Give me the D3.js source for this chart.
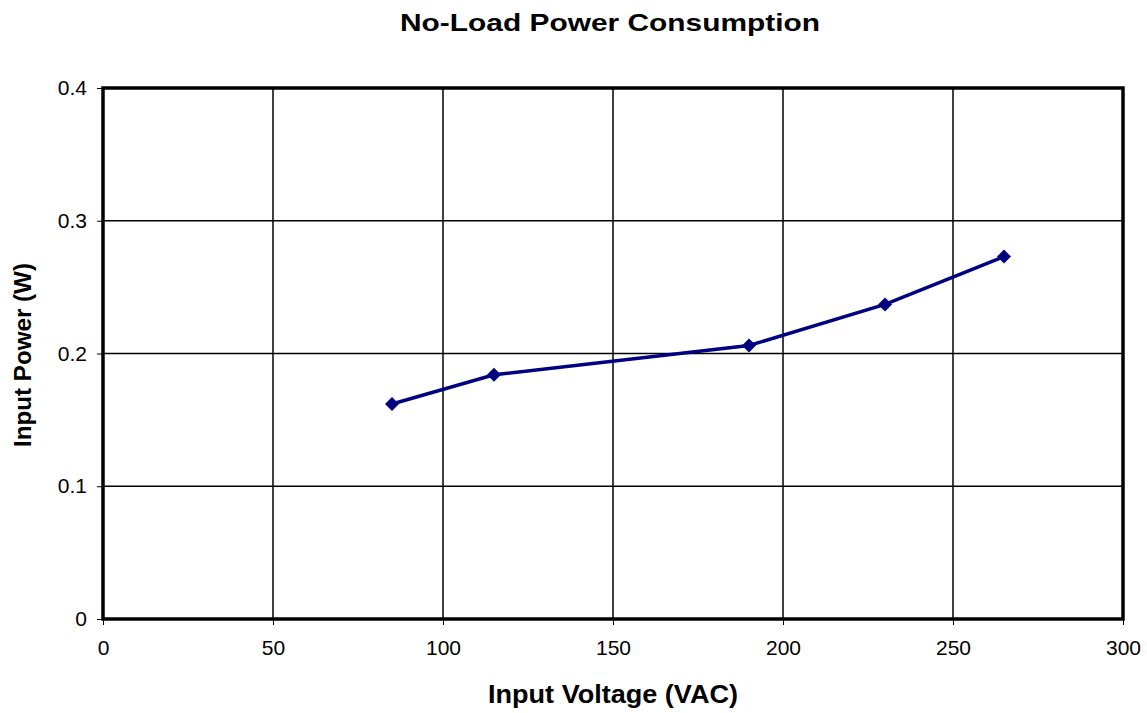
<!DOCTYPE html>
<html>
<head>
<meta charset="utf-8">
<script src="https://cdn.jsdelivr.net/npm/d3@7"></script>
<style>
  body { margin: 0; background: #fff; }
  text { font-family: "Liberation Sans", Arial, sans-serif; }
</style>
</head>
<body>
<div id="container"></div>
<script>
// data
var voltages = [85, 115, 190, 230, 265]
var powers = [0.162, 0.184, 0.206, 0.237, 0.273]
var xTicks = [0, 50, 100, 150, 200, 250, 300]
var yTicks = [0, 0.1, 0.2, 0.3, 0.4]

main()

function main() {
    const width = 1147
    const height = 713
    const marginTop = 88
    const marginRight = 24
    const marginBottom = 94
    const marginLeft = 103

    const x = d3.scaleLinear()
        .domain([0, 300])
        .range([marginLeft, width - marginRight])

    const y = d3.scaleLinear()
        .domain([0, 0.4])
        .range([height - marginBottom, marginTop])

    const svg = d3.create("svg")
        .attr("width", width)
        .attr("height", height)

    // gridlines
    svg.append("g")
        .selectAll("line")
        .data(xTicks.slice(1, -1))
        .enter()
        .append("line")
        .attr("x1", d => x(d)).attr("x2", d => x(d))
        .attr("y1", y(0)).attr("y2", y(0.4))
        .attr("stroke", "#000").attr("stroke-width", 1.5)

    svg.append("g")
        .selectAll("line")
        .data(yTicks.slice(1, -1))
        .enter()
        .append("line")
        .attr("x1", x(0)).attr("x2", x(300))
        .attr("y1", d => y(d)).attr("y2", d => y(d))
        .attr("stroke", "#000").attr("stroke-width", 1.5)

    // axes
    const xAxis = svg.append("g")
        .attr("transform", `translate(0,${y(0)})`)
        .call(d3.axisBottom(x).tickValues(xTicks).tickSize(6).tickPadding(15).tickFormat(d3.format("d")))
    xAxis.select(".domain").remove()
    xAxis.selectAll("text").style("font-size", "21px").attr("fill", "#000")

    const yAxis = svg.append("g")
        .attr("transform", `translate(${x(0)},0)`)
        .call(d3.axisLeft(y).tickValues(yTicks).tickSize(6).tickPadding(10).tickFormat(d => d === 0 ? "0" : d3.format(".1f")(d)))
    yAxis.select(".domain").remove()
    yAxis.selectAll("text").style("font-size", "21px").attr("fill", "#000")

    // plot frame
    svg.append("rect")
        .attr("x", x(0))
        .attr("y", y(0.4))
        .attr("width", x(300) - x(0))
        .attr("height", y(0) - y(0.4))
        .attr("fill", "none")
        .attr("stroke", "#000")
        .attr("stroke-width", 3.5)

    // series line
    const pts = voltages.map((v, i) => ({v: v, p: powers[i]}))
    svg.append("path")
        .datum(pts)
        .attr("fill", "none")
        .attr("stroke", "#000080")
        .attr("stroke-width", 3.5)
        .attr("d", d3.line().x(d => x(d.v)).y(d => y(d.p)))

    // diamond markers
    svg.selectAll("path.marker")
        .data(pts)
        .enter()
        .append("path")
        .attr("class", "marker")
        .attr("transform", d => `translate(${x(d.v)},${y(d.p)})`)
        .attr("d", "M0,-7L7,0L0,7L-7,0Z")
        .attr("fill", "#000080")

    // title and axis titles
    svg.append("text")
        .attr("x", 400)
        .attr("y", 31)
        .attr("textLength", 420)
        .attr("lengthAdjust", "spacingAndGlyphs")
        .style("font-size", "24px")
        .style("font-weight", "bold")
        .text("No-Load Power Consumption")

    svg.append("text")
        .attr("x", 488)
        .attr("y", 703)
        .attr("textLength", 250)
        .attr("lengthAdjust", "spacingAndGlyphs")
        .style("font-size", "25px")
        .style("font-weight", "bold")
        .text("Input Voltage (VAC)")

    svg.append("text")
        .attr("transform", `translate(31,447) rotate(-90)`)
        .attr("textLength", 184)
        .attr("lengthAdjust", "spacingAndGlyphs")
        .style("font-size", "24px")
        .style("font-weight", "bold")
        .text("Input Power (W)")

    container.append(svg.node())
}
</script>
</body>
</html>
